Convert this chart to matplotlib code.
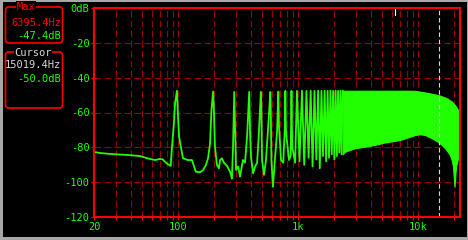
"""Spectrum analyser view: harmonic spectrum on a log frequency axis, black scope style."""

import matplotlib
matplotlib.use("Agg")
import matplotlib.pyplot as plt
from matplotlib.patches import FancyBboxPatch, Rectangle
from matplotlib.ticker import NullFormatter

W, H = 468, 240

# Readouts shown in the side panel
max_hz = 6395.4
max_db = -47.4
cursor_hz = 15019.4
cursor_db = -50.0

# Low frequency part of the trace (Hz, dB)
low_trace = [
    (20, -82.7), (22, -83.2), (27, -83.8), (38, -84.4), (48, -85.0), (56, -86.4),
    (64, -87.3), (70, -86.7), (74, -86.9), (80, -89.2), (86.5, -90.7), (88.5, -80.4),
    (92, -66.0), (94, -54.7), (97.5, -47.5), (99, -59.0), (101.5, -73.9), (105.5, -80.4),
    (109.5, -86.3), (120, -87.3), (130, -87.3), (135, -90.7), (140, -94.0), (152, -94.3),
    (161, -93.0), (170, -90.1), (177, -86.3), (184, -77.7), (189, -58.6), (195, -48.0),
    (198, -58.6), (202, -79.5), (210, -90.1), (218, -92.0), (223, -87.3), (231, -86.3),
    (240, -88.8), (255, -90.7), (270, -94.0), (280, -98.0), (286, -79.5), (292.5, -48.2),
    (298, -71.4), (303, -93.0), (315, -91.0), (327, -96.8), (346, -87.3), (360, -88.8),
    (375, -73.0), (390, -48.2), (397, -73.0), (404, -85.7), (420, -94.9), (437, -91.0),
    (454, -88.8), (470, -71.4), (487.5, -48.2), (492, -56.9), (499, -87.3), (518, -95.8),
    (538, -87.3), (562, -67.5), (585, -48.2), (590, -58.6), (597, -87.3), (615, -102.6),
    (641, -85.7), (665, -71.4), (682.5, -48.0), (690, -67.5), (718, -87.3), (749, -88.8),
    (772, -69.6), (780, -47.6), (790, -71.4), (838, -87.3), (865, -84.5), (877.5, -47.6),
    (890, -79.5), (941, -88.8), (975, -47.6),
]

# 1k..2.3k: separate spikes (trough, peak, trough, ...)
mid_trace = [
    (1024, -88), (1073, -47.5), (1121, -90), (1170, -47.6), (1219, -86), (1268, -47.5),
    (1316, -91), (1365, -47.6), (1414, -87), (1463, -47.5), (1511, -92), (1560, -47.6),
    (1609, -85), (1658, -47.5), (1706, -88), (1755, -47.6), (1804, -86), (1853, -47.5),
    (1901, -84), (1950, -47.6), (1999, -87), (2048, -47.5), (2096, -85), (2145, -47.6),
    (2194, -83), (2243, -47.5), (2291, -84), (2340, -47.5),
]

# Above ~2.3k the harmonics merge into a solid band
band_hz = [2340, 2452, 2970, 3598, 4358, 5180, 7015, 7750, 8531, 9393, 10340, 11380,
           12530, 13790, 15170, 16700, 17360, 18380, 19100, 19460, 20040, 20620, 21430, 22050]
band_top_db = [-47.5, -47.5, -47.5, -47.5, -47.5, -47.5, -47.5, -47.5, -47.5, -47.6, -48.0, -48.5,
               -49.0, -49.6, -50.3, -51.4, -51.9, -53.0, -53.8, -54.5, -55.5, -56.6, -58.5, -60.5]
band_low_db = [-84.0, -82.5, -80.5, -79.6, -78.6, -77.3, -75.8, -74.8, -73.9, -72.9, -72.5, -72.9,
               -74.3, -75.8, -77.7, -80.5, -82.0, -84.4, -88.0, -91.1, -102.6, -91.0, -86.3, -85.4]

x_major = [20, 100, 1000, 10000]
x_major_labels = ["20", "100", "1k", "10k"]
x_minor = [30, 40, 50, 60, 70, 80, 90,
           200, 300, 400, 500, 600, 700, 800, 900,
           2000, 3000, 4000, 5000, 6000, 7000, 8000, 9000, 20000]
y_ticks = [0, -20, -40, -60, -80, -100, -120]
y_labels = ["0dB", "-20", "-40", "-60", "-80", "-100", "-120"]

GREEN = "#22ff00"
RED = "#ff0000"
GRID = "#a00000"
GRAY = "#a8a8a8"
LIGHT = "#d8d8d8"
FS = 7.5

plt.rcParams["font.family"] = ["DejaVu Sans Mono"]

fig = plt.figure(figsize=(W / 100, H / 100), dpi=100, facecolor="black")

# Side panel and window frame, drawn in pixel units
panel = fig.add_axes([0, 0, 1, 1])
panel.set_xlim(0, W)
panel.set_ylim(H, 0)
panel.axis("off")
for r in [(0, 0, 3, H), (0, 0, W, 2), (466.5, 0, 1.5, H), (0, 236.7, W, 3.3)]:
    panel.add_patch(Rectangle(r[:2], r[2], r[3], color=GRAY, lw=0))

for (bx, by, bw, bh) in [(5.5, 7, 57, 36), (5.5, 52, 57, 56)]:
    panel.add_patch(FancyBboxPatch((bx, by), bw, bh, boxstyle="round,pad=0,rounding_size=3",
                                   fill=False, ec=RED, lw=1.2))

title_box = dict(fc="black", ec="none", pad=0.4)
panel.text(26, 7, "Max", color=RED, ha="center", va="center", fontsize=FS, bbox=title_box)
panel.text(61, 23, f"{max_hz:.1f}Hz", color=RED, ha="right", va="center", fontsize=FS)
panel.text(61, 36, f"{max_db:.1f}dB", color=GREEN, ha="right", va="center", fontsize=FS)
panel.text(33, 52.5, "Cursor", color=LIGHT, ha="center", va="center", fontsize=FS, bbox=title_box)
panel.text(61, 65, f"{cursor_hz:.1f}Hz", color=LIGHT, ha="right", va="center", fontsize=FS)
panel.text(61, 79, f"{cursor_db:.1f}dB", color=GREEN, ha="right", va="center", fontsize=FS)

# Main spectrum axes
ax = fig.add_axes([94.4 / W, 1 - 217 / H, (459.5 - 94.4) / W, 209 / H], facecolor="black")
ax.set_xscale("log")
ax.set_xlim(20, 22050)
ax.set_ylim(-120, 0)
ax.set_xticks(x_major, x_major_labels)
ax.set_xticks(x_minor, minor=True)
ax.xaxis.set_minor_formatter(NullFormatter())
ax.set_yticks(y_ticks, y_labels)

ax.grid(True, which="both", axis="x", color=GRID, lw=0.8, linestyle=(0, (6, 3)))
ax.grid(True, which="major", axis="y", color=GRID, lw=0.8, linestyle=(0, (6, 3)))
ax.set_axisbelow(True)
ax.tick_params(axis="both", which="both", colors=RED, labelcolor=GREEN, direction="out",
               length=2.5, width=0.8, labelsize=FS, pad=1)

for s in ax.spines.values():
    s.set_color(RED)
    s.set_linewidth(1.5)
    s.set_zorder(5)

trace = low_trace + mid_trace
ax.plot([p[0] for p in trace], [p[1] for p in trace], color=GREEN, lw=1.3, zorder=3)
ax.fill_between(band_hz, band_low_db, band_top_db, color=GREEN, lw=0.8, zorder=3)

# Cursor and max markers
ax.axvline(cursor_hz, color=LIGHT, lw=0.8, linestyle=(0, (4, 2.5)), zorder=4)
ax.plot([max_hz, max_hz], [0, -4], color="white", lw=0.8, zorder=4)

fig.savefig("out.png", dpi=100, facecolor="black")
